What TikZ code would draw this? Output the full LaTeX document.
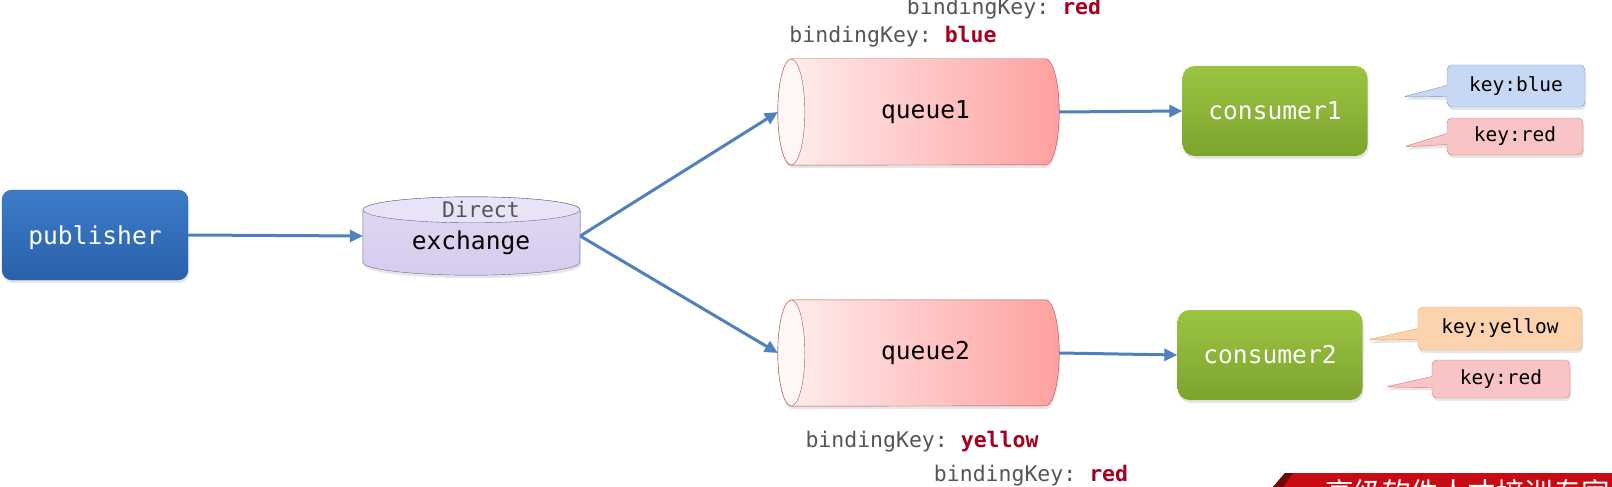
\documentclass[tikz,border=0pt]{standalone}
\usepackage{fontspec}
\setmonofont{DejaVu Sans Mono}
\newfontfamily\cjkfont{Noto Sans CJK SC}
\usetikzlibrary{shapes.callouts,arrows.meta,shadows}

\pgfdeclarelayer{background}
\pgfsetlayers{background,main}

\definecolor{pubtop}{RGB}{60,124,200}
\definecolor{pubbot}{RGB}{42,96,170}
\definecolor{exfill}{RGB}{214,204,238}
\definecolor{exline}{RGB}{112,102,146}
\definecolor{qleft}{RGB}{255,240,240}
\definecolor{qright}{RGB}{255,160,160}
\definecolor{qline}{RGB}{176,80,80}
\definecolor{contop}{RGB}{156,196,66}
\definecolor{conbot}{RGB}{124,164,46}
\definecolor{flowblue}{RGB}{79,129,189}
\definecolor{keygray}{RGB}{85,85,85}
\definecolor{keyred}{RGB}{165,0,33}
\definecolor{bluefill}{RGB}{198,216,244}
\definecolor{blueline}{RGB}{122,155,208}
\definecolor{redfill}{RGB}{248,196,198}
\definecolor{redline}{RGB}{214,118,120}
\definecolor{yelfill}{RGB}{252,211,174}
\definecolor{yelline}{RGB}{234,164,104}
\definecolor{banner}{RGB}{200,10,20}

\begin{document}
\begin{tikzpicture}[
	x=1pt,y=-1pt,
	mainfont/.style={font=\ttfamily\fontsize{24.6}{28}\selectfont},
	softshadow/.style={drop shadow={opacity=.2,shadow xshift=1pt,shadow yshift=-3pt}},
	pub/.style={
		mainfont,softshadow,
		rounded corners=10pt,
		top color=pubtop,bottom color=pubbot,
		draw=pubbot,
		minimum width=186pt,
		minimum height=90pt,
		text=white,
		text depth=0pt,
	},
	exch/.style={
		minimum width=217pt,
		minimum height=78pt,
	},
	exbody/.style={draw=exline,top color=exfill!75!white,bottom color=exfill,softshadow},
	queue/.style={
		minimum width=281pt,
		minimum height=106pt,
	},
	qbody/.style={draw=qline,left color=qleft,right color=qright,softshadow},
	cons/.style={
		mainfont,softshadow,
		rounded corners=12pt,
		top color=contop,bottom color=conbot,
		minimum width=185pt,
		minimum height=90pt,
		text=white,
	},
	keytag/.style={
		rectangle callout,rounded corners=5pt,
		callout pointer width=11pt,
		font=\ttfamily\fontsize{19.5}{22}\selectfont,
		softshadow,
	},
	bkey/.style={anchor=base,text=keygray,font=\ttfamily\fontsize{21.5}{24}\selectfont},
	flow/.style={draw=flowblue,line width=3pt,-{Triangle[length=13pt,width=12pt]}},
]
\useasboundingbox (0,0) rectangle (1612,487);

% producer side
\node[pub] (publisher) at (95,235) {publisher};
\node[exch] (exchange) at (471.5,236) {};
\node[font=\ttfamily\fontsize{21.5}{24}\selectfont,text=keygray] (direct) at (481,209) {Direct};
\node[mainfont] (exname) at (471,243) {exchange};

% queues
\node[queue,label={[mainfont,xshift=7pt]center:queue1}] (q1) at (918.5,112) {};
\node[queue,label={[mainfont,xshift=7pt]center:queue2}] (q2) at (918.5,353) {};

% consumers
\node[cons] (consumer1) at (1275,111) {consumer1};
\node[cons] (consumer2) at (1270,355) {consumer2};

% cylinder bodies behind the texts
\begin{pgfonlayer}{background}
\path[exbody] ([yshift=-13pt]exchange.north west) -- ([yshift=13pt]exchange.south west)
	arc[start angle=180,end angle=360,x radius=108.5pt,y radius=13pt]
	-- ([yshift=-13pt]exchange.north east)
	arc[start angle=0,end angle=180,x radius=108.5pt,y radius=13pt] -- cycle;
\draw[exline,fill=exfill!55!white] ([yshift=-13pt]exchange.north) ellipse[x radius=108.5pt,y radius=13pt];
\foreach \q in {q1,q2}{
	\path[qbody] ([xshift=13.5pt]\q.north west) -- ([xshift=-13.5pt]\q.north east)
		arc[start angle=90,end angle=-90,x radius=13.5pt,y radius=53pt]
		-- ([xshift=13.5pt]\q.south west)
		arc[start angle=270,end angle=90,x radius=13.5pt,y radius=53pt] -- cycle;
	\draw[qline,fill=qleft!60!white] ([xshift=13.5pt]\q.west) ellipse[x radius=13.5pt,y radius=53pt];
}
\end{pgfonlayer}

% binding keys
\node[bkey] (bkred1) at (1004,15) {bindingKey: \textcolor{keyred}{\textbf{red}}};
\node[bkey] (bkblue) at (893,43) {bindingKey: \textcolor{keyred}{\textbf{blue}}};
\node[bkey] (bkyellow) at (922,447) {bindingKey: \textcolor{keyred}{\textbf{yellow}}};
\node[bkey] (bkred2) at (1031,481) {bindingKey: \textcolor{keyred}{\textbf{red}}};

% message keys
\node[keytag,draw=blueline,fill=bluefill,minimum width=138pt,minimum height=42pt,
	callout absolute pointer={(1402,97)}] (kblue) at (1516,86) {key:blue};
\node[keytag,draw=redline,fill=redfill,minimum width=136pt,minimum height=37pt,
	callout absolute pointer={(1403,147)}] (kred1) at (1515,136.5) {key:red};
\node[keytag,draw=yelline,fill=yelfill,minimum width=164pt,minimum height=43pt,
	callout absolute pointer={(1367,340)}] (kyellow) at (1500,328.5) {key:yellow};
\node[keytag,draw=redline,fill=redfill,minimum width=138pt,minimum height=38pt,
	callout absolute pointer={(1385,387)}] (kred2) at (1501,379) {key:red};

% connections
\draw[flow] (publisher.east) -- (exchange.west);
\draw[flow] (exchange.east) -- (q1.west);
\draw[flow] (exchange.east) -- (q2.west);
\draw[flow] (q1.east) -- (consumer1.west);
\draw[flow] (q2.east) -- (consumer2.west);

% watermark banner
\fill[banner] (1273,487) -- (1285,473) -- (1612,473) -- (1612,487) -- cycle;
\fill[banner!55!black] (1273,487) -- (1285,473) -- (1293,473) -- (1283,487) -- cycle;
\node[anchor=north west,inner sep=0pt,text=white,font=\cjkfont\fontsize{28.5}{30}\selectfont]
	(slogan) at (1325,479) {高级软件人才培训专家};

\end{tikzpicture}
\end{document}
